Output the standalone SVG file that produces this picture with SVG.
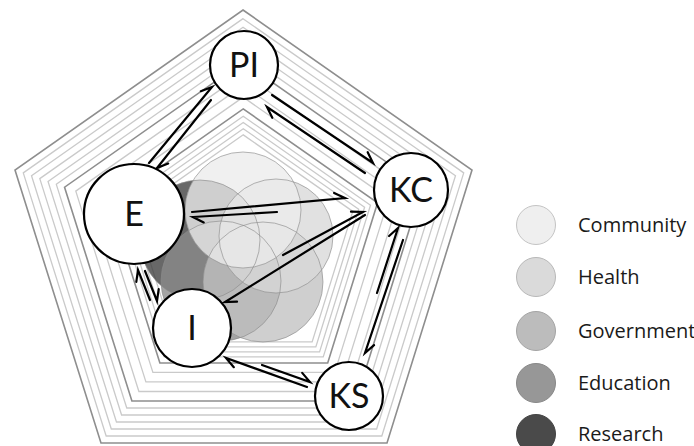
<svg xmlns="http://www.w3.org/2000/svg" xmlns:xlink="http://www.w3.org/1999/xlink" width="694" height="446" viewBox="0 0 694 446">
<style>
.pd{fill:none;stroke:#8e8e8e;stroke-width:1.6}
.pl{fill:none;stroke:#cacaca;stroke-width:1.3}
.node circle{fill:#fff;stroke:#000;stroke-width:2.2}
.node text{font-family:Lato,"Open Sans",sans-serif;font-weight:400;font-size:34px;fill:#111;text-anchor:middle}
.venn circle{stroke:none;fill-opacity:0.78}
.vline circle{fill:none;stroke:#8a8a8a;stroke-width:0.8;stroke-opacity:0.8}
.conn path{fill:none;stroke:#000;stroke-width:2.2;stroke-linecap:round}
.leg circle{stroke-width:1}
.leg text{font-family:"Open Sans","Noto Sans",sans-serif;font-size:20px;fill:#1a1a1a}
</style>
<defs>
<polygon id="pent" points="243,10 472,170 387,443 101,443 15,170" vector-effect="non-scaling-stroke"/>
</defs>
<g id="background">
<use xlink:href="#pent" class="pd"/>
<use xlink:href="#pent" class="pl" transform="translate(243.5 249.3) scale(0.9638) translate(-243.5 -249.3)"/>
<use xlink:href="#pent" class="pl" transform="translate(243.5 249.3) scale(0.9277) translate(-243.5 -249.3)"/>
<use xlink:href="#pent" class="pl" transform="translate(243.5 249.3) scale(0.8915) translate(-243.5 -249.3)"/>
<use xlink:href="#pent" class="pl" transform="translate(243.5 249.3) scale(0.8554) translate(-243.5 -249.3)"/>
<use xlink:href="#pent" class="pl" transform="translate(243.5 249.3) scale(0.8192) translate(-243.5 -249.3)"/>
<use xlink:href="#pent" class="pd" transform="translate(243.5 249.3) scale(0.7831) translate(-243.5 -249.3)"/>
<use xlink:href="#pent" class="pl" transform="translate(243.5 249.3) scale(0.7340) translate(-243.5 -249.3)"/>
<use xlink:href="#pent" class="pl" transform="translate(243.5 249.3) scale(0.6849) translate(-243.5 -249.3)"/>
<use xlink:href="#pent" class="pl" transform="translate(243.5 249.3) scale(0.6358) translate(-243.5 -249.3)"/>
<use xlink:href="#pent" class="pd" transform="translate(243.5 249.3) scale(0.5868) translate(-243.5 -249.3)"/>
<use xlink:href="#pent" class="pl" transform="translate(243.5 249.3) scale(0.5558) translate(-243.5 -249.3)"/>
<use xlink:href="#pent" class="pl" transform="translate(243.5 249.3) scale(0.5300) translate(-243.5 -249.3)"/>
<use xlink:href="#pent" class="pl" transform="translate(243.5 249.3) scale(0.5041) translate(-243.5 -249.3)"/>
<use xlink:href="#pent" class="pl" transform="translate(243.5 249.3) scale(0.4783) translate(-243.5 -249.3)"/>
</g>
<g id="venn" class="venn">
<circle cx="200" cy="240" r="60" fill="#3e3e3e"/>
<circle cx="221" cy="281" r="60" fill="#8a8a8a"/>
<circle cx="263" cy="282" r="60" fill="#c2c2c2"/>
<circle cx="276" cy="236" r="57" fill="#d8d8d8"/>
<circle cx="243" cy="210" r="58" fill="#ececec"/>
</g>
<g id="venn-outlines" class="vline">
<circle cx="200" cy="240" r="60"/>
<circle cx="221" cy="281" r="60"/>
<circle cx="263" cy="282" r="60"/>
<circle cx="276" cy="236" r="57"/>
<circle cx="243" cy="210" r="58"/>
</g>
<g id="connectors" class="conn">
<path d="M149,163 L212,87 L200.8,91.2"/>
<path d="M211,100 L157,168 L168.2,163.6"/>
<path d="M272,95 L373,163 L367.7,152.2"/>
<path d="M365,173 L267,107 L272.3,117.8"/>
<path d="M192,212 L345,198 L334.1,193"/>
<path d="M277,212 L193,217 L203.7,222.4"/>
<path d="M365,215 L225,302 L237,301.6"/>
<path d="M283,255 L363,212 L351,211.6"/>
<path d="M403,240 L365,353 L374,345.1"/>
<path d="M377,293 L398,228 L389.1,236"/>
<path d="M307,387 L226,358 L233.8,367.2"/>
<path d="M262,365 L310,382 L302.2,372.9"/>
<path d="M150,300 L138,270 L136.3,281.9"/>
<path d="M145,271 L157,301 L158.7,289.1"/>
</g>
<g id="node-PI" class="node"><circle cx="244" cy="65" r="34"/><text x="244" y="77">PI</text></g>
<g id="node-KC" class="node"><circle cx="411" cy="190" r="37"/><text x="411" y="202">KC</text></g>
<g id="node-E" class="node"><circle cx="134" cy="214" r="50"/><text x="134" y="226">E</text></g>
<g id="node-I" class="node"><circle cx="192" cy="328" r="39"/><text x="192" y="340">I</text></g>
<g id="node-KS" class="node"><circle cx="349" cy="396" r="34"/><text x="349" y="408">KS</text></g>
<g id="legend" class="leg">
<circle cx="536" cy="225" r="19.5" fill="#efefef" stroke="#c4c4c4"/>
<circle cx="536" cy="277" r="19.5" fill="#dadada" stroke="#b8b8b8"/>
<circle cx="536" cy="331" r="19.5" fill="#bcbcbc" stroke="#a4a4a4"/>
<circle cx="536" cy="383" r="19.5" fill="#979797" stroke="#888"/>
<circle cx="536" cy="434" r="19.5" fill="#4a4a4a" stroke="#444"/>
<text x="578" y="232">Community</text>
<text x="578" y="284">Health</text>
<text x="578" y="338">Government</text>
<text x="578" y="390">Education</text>
<text x="578" y="441">Research</text>
</g>
</svg>
